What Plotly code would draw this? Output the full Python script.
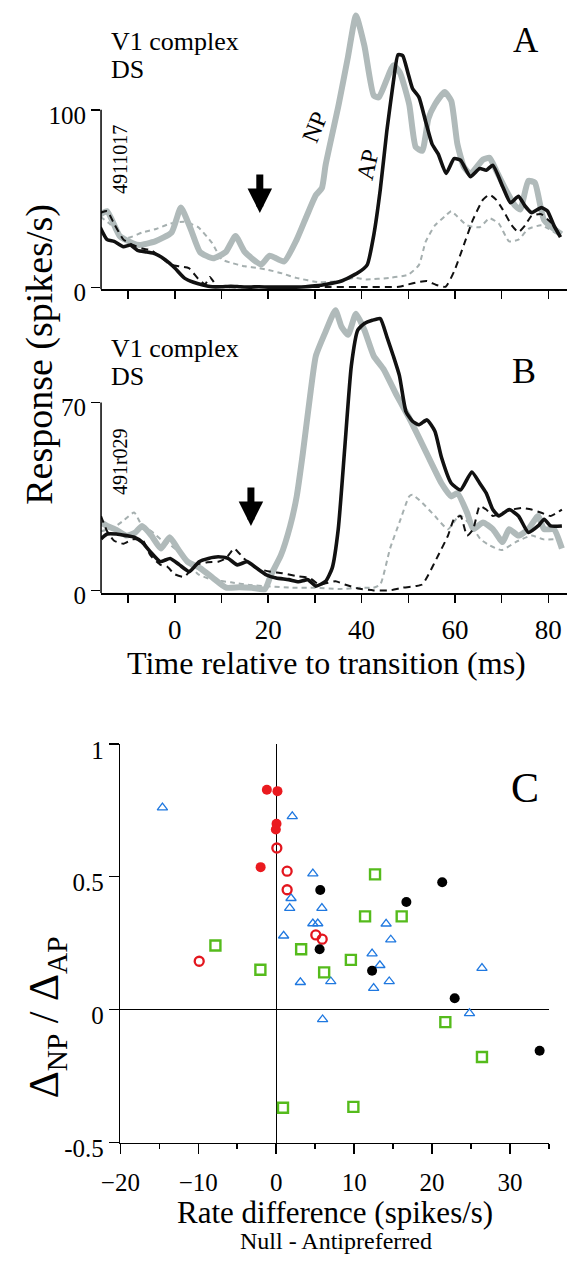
import plotly.graph_objects as go

W, H = 568, 1280
SERIF = "Liberation Serif, Times New Roman, serif"

# ---------------- Panel A data (time ms, spikes/s) ----------------
A_NP_t = [-16, -14.5, -11.8, -9, -7.6, -4.2, -0.7, 1.3, 3.4, 5.4, 8.2, 10.9, 13, 15, 18.5, 20.3, 23.4, 26.1, 28.2, 30.2,
          31.5, 32.3, 35.1, 37.1, 38.8, 40.6, 42.6, 43.7, 46.8, 48.2, 50.2, 51.6, 53, 54.3, 55.7, 57.8, 59.2, 60.5, 61.9, 63.3,
          66, 67.4, 68.8, 70.9, 72.9, 74, 75.7, 77.1, 79.1, 82.8]
A_NP_v = [41, 43, 29, 25, 24, 26, 31, 45, 33, 20, 16.5, 20, 29, 20, 13, 18, 14.7, 27, 40, 52,
          56, 69, 103, 130, 153, 136, 108, 107, 125, 121, 103, 79, 77, 95, 103, 110, 105, 81, 68, 64,
          72, 73, 66, 55, 46, 44, 60, 59, 38, 30]

A_AP_t = [-16, -14.5, -13, -11, -9.5, -8, -6, -4.2, -2, 0, 2, 4, 6, 8, 10, 12, 14, 16, 18, 20,
          22, 24, 26, 28, 30, 32.3, 35.7, 39.2, 41.2, 42.6, 44, 45.4, 46.8, 47.8, 48.8, 49.9, 50.9, 52.3, 53.7, 55.1,
          56.4, 58.1, 59.8, 61.2, 63.3, 65.3, 66.7, 68.1, 70.2, 71.9, 73.6, 75, 76.4, 78.5, 79.8, 81.2, 82.6]
A_AP_v = [34, 27, 26, 23, 24, 21, 20, 19, 15.6, 11, 5.5, 3, 1.5, 0.5, 0.5, 0.8, 0.5, 0.3, 0.5, 0.3,
          0.3, 0.3, 0.3, 0.5, 1, 1.8, 3.7, 8.3, 12.8, 29.4, 55, 88, 115.6, 131, 130.5, 121, 112, 107, 93.6, 80.7,
          75.2, 64.2, 72.5, 71.6, 62.4, 67, 66, 68.8, 56.9, 47.7, 51.4, 45.9, 42.2, 45, 43.1, 34.9, 28.4]

A_NPd_t = [-16, -14, -12, -10, -7, -4, -1, 2, 5, 8, 10, 12, 15, 18, 20, 23, 26, 31, 35, 38.5,
           41, 46, 50, 52.3, 53.7, 55.7, 57.8, 59.2, 60.5, 62.6, 65.3, 67.4, 69.4, 71.6, 73.6, 75.7, 78.5, 82.6]
A_NPd_v = [40, 36, 30, 28, 31, 33, 36, 37, 34, 25, 16, 14, 12, 11, 10, 8, 5.5, 3, 3.7, 5.5,
           4.6, 5.5, 7.3, 12.8, 25.7, 35, 40, 43, 40, 35, 34, 39, 36, 26, 27, 33, 35, 29]

A_APd_t = [-16, -14.5, -13, -11, -9, -7, -5, -3, -1, 1, 3, 5, 6.5, 7.5, 9, 11, 15, 20, 30, 40,
           48, 50, 52, 54, 56, 58, 59.8, 61.9, 63.9, 66, 67.4, 68.8, 70.2, 72.2, 73.6, 75, 76.4, 78.5, 79.8, 81.2, 82.6]
A_APd_v = [42, 43, 36, 27, 24, 22, 21, 17, 13, 12, 11, 5, 2, 6, 1, 0.3, 0.3, 0.3, 0.3, 0.3,
           0.5, 1.8, 3, 3.7, 1.5, 0.5, 9, 24, 38.5, 49.5, 52.3, 49.5, 44, 34.9, 31.2, 34.9, 40.4, 41.3, 38.5, 35, 29]

# ---------------- Panel B data ----------------
B_NP_t = [-15.8, -14.5, -12.5, -10.4, -8.5, -7, -5, -3, -1.1, 0.6, 2.7, 5.4, 8.2, 11, 13.8, 16.5, 19.3, 20.6, 22.7, 24.7,
          26.1, 27.4, 28.9, 30.2, 32.3, 34.4, 35.7, 37.1, 38.8, 40.6, 42.6, 44.7, 47.5, 50.2, 53, 55, 57.1, 59.2, 60.5, 62.6,
          63.9, 66, 68.1, 70.2, 71.6, 73.6, 75.7, 77.8, 79.1, 81.2, 82.9]
B_NP_v = [25.3, 24, 22.5, 20.4, 21.5, 24, 20.4, 15.6, 19.8, 15.6, 10.7, 8.3, 4.6, 1, 1.2, 1, 0.5, 5.8, 13, 24,
          35, 50.8, 71.5, 87.3, 96.4, 104.3, 98.2, 95.2, 103, 97, 87.3, 82.4, 72.7, 64.2, 54.4, 47.2, 39.9, 35, 36.2, 28.9,
          22.8, 25.3, 22.8, 18, 22.8, 20.4, 22.8, 27.7, 22.8, 22.8, 15.6]

B_AP_t = [-15.8, -14.5, -12.5, -10.4, -8.7, -7, -5.2, -3.1, -1, 1, 3.1, 5.2, 7.2, 9.3, 11.4, 13.4, 15.5, 17.5, 19.6, 21.7,
          24.4, 26.5, 28.5, 30.2, 32.3, 33.7, 35, 36.4, 37.8, 39.2, 40.6, 42.3, 44, 45.4, 46.8, 48.1, 49.5, 50.9, 52.3, 54,
          55.7, 57.1, 59.2, 61.2, 63.6, 65.3, 66.7, 68.1, 69.4, 71.6, 73.6, 75.7, 77.8, 79.1, 80.5, 82.9]
B_AP_v = [19.2, 21, 21, 20.4, 19.8, 18, 14.3, 10.7, 11.9, 9.5, 7, 10.7, 11.9, 12.5, 11.9, 9.5, 10.7, 8.3, 5.8, 4.6,
          4, 3.2, 4, 1.6, 3.4, 8.3, 22.8, 53.2, 83.6, 97, 99.4, 100.6, 101.2, 94.5, 87.3, 80, 66.6, 63, 61.7, 63.5,
          59.3, 49.6, 39.9, 37.4, 44.1, 39.9, 36.2, 30.1, 27.7, 30.1, 27.7, 21.6, 24, 26.5, 24, 24]

B_NPd_t = [-15.8, -13, -11, -8.7, -7, -5, -3, -1, 1, 3, 5, 8, 12, 16, 20, 25, 30, 35, 40, 42.5,
           44, 46.1, 48.1, 50.2, 50.9, 53, 55.7, 58.5, 61, 63.5, 65.5, 67.4, 70, 73, 76.4, 79, 82.6]
B_NPd_v = [22, 23.5, 26, 29, 24, 22, 19, 17, 14, 10, 6, 4, 3, 2, 1.5, 1, 1, 0.5, 1, 1,
           2.2, 15.6, 25.3, 35, 35.6, 32.6, 27.7, 22.8, 28, 24, 19, 16.8, 15, 18, 20.4, 19, 19.2]

B_APd_t = [-15.8, -14.5, -13, -11, -9, -7, -5.2, -3, -1.7, 0, 2, 4.4, 7, 9.3, 11, 12.7, 14.8, 17.5, 20.3, 23,
           26.4, 28.9, 30.9, 34.4, 36.4, 39.2, 42.6, 46.1, 48.8, 51.6, 53, 54.3, 56.4, 58.5, 59.8, 61.2, 62.6, 63.9, 65.3, 66.7,
           68.1, 70.2, 72.2, 74.3, 76.4, 78.5, 80.5, 82.9]
B_APd_v = [27.7, 22, 18.5, 17.4, 19, 19, 13, 9.5, 8.9, 6, 5, 9.5, 10.5, 10.7, 12, 15.6, 11.9, 8.3, 7, 6.4,
           5.2, 4.6, 2.2, 3.4, 2.2, 0.7, 0, 0, 1, 1.6, 2.2, 5.8, 13, 20.4, 26.5, 27.7, 20.4, 22.8, 31.4, 30.1,
           27.7, 28.9, 30.1, 30.7, 30.1, 28.9, 27.7, 30.1]

# ---------------- Panel C data ----------------
red_filled_x = [-1.2, 0.16, 0.04, -0.05, -2.0]
red_filled_y = [0.827, 0.822, 0.699, 0.678, 0.536]
red_open_x = [0.08, 1.4, 1.4, 5.08, 5.9, -9.88]
red_open_y = [0.608, 0.521, 0.451, 0.281, 0.265, 0.182]
black_x = [5.65, 5.57, 21.3, 16.7, 12.3, 22.9, 33.8]
black_y = [0.450, 0.227, 0.479, 0.405, 0.146, 0.043, -0.155]
blue_x = [-14.6, 2.06, 4.7, 1.9, 1.73, 5.86, 4.7, 5.33, 0.95, 3.1, 14.1, 14.7, 12.3, 13.3, 26.4, 7.0, 12.5, 14.5, 5.95, 24.8]
blue_y = [0.760, 0.727, 0.512, 0.419, 0.382, 0.382, 0.324, 0.324, 0.278, 0.103, 0.323, 0.263, 0.211, 0.167, 0.156,
          0.106, 0.081, 0.106, -0.037, -0.014]
green_x = [-7.8, -2.03, 3.2, 6.15, 12.68, 11.4, 16.1, 9.58, 21.7, 26.4, 9.9, 0.87]
green_y = [0.241, 0.150, 0.227, 0.140, 0.509, 0.351, 0.351, 0.187, -0.047, -0.178, -0.366, -0.369]

time_ticks = [-10, 0, 10, 20, 30, 40, 50, 60, 70, 80]
time_ticktext = ["", "0", "", "20", "", "40", "", "60", "", "80"]
C_x_ticks = [-20, -10, 0, 10, 20, 30]
C_y_ticks = [-0.5, 0, 0.5, 1]
C_y_ticktext = ["-0.5", "0", "0.5", "1"]

GRAY = "#b0baba"
GRAYD = "#a5afaf"
BLACK = "#111111"

fig = go.Figure()


def add_panel(xa, ya, npd, apd, np_, ap):
    fig.add_trace(go.Scatter(x=npd[0], y=npd[1], mode="lines", xaxis=xa, yaxis=ya,
                             line=dict(color=GRAYD, width=2, dash="5px,4px", shape="spline", smoothing=0.5)))
    fig.add_trace(go.Scatter(x=np_[0], y=np_[1], mode="lines", xaxis=xa, yaxis=ya,
                             line=dict(color=GRAY, width=6, shape="spline", smoothing=0.5)))
    fig.add_trace(go.Scatter(x=apd[0], y=apd[1], mode="lines", xaxis=xa, yaxis=ya,
                             line=dict(color=BLACK, width=2, dash="7px,5px", shape="spline", smoothing=0.5)))
    fig.add_trace(go.Scatter(x=ap[0], y=ap[1], mode="lines", xaxis=xa, yaxis=ya,
                             line=dict(color=BLACK, width=3.6, shape="spline", smoothing=0.5)))


add_panel("x", "y", (A_NPd_t, A_NPd_v), (A_APd_t, A_APd_v), (A_NP_t, A_NP_v), (A_AP_t, A_AP_v))
add_panel("x2", "y2", (B_NPd_t, B_NPd_v), (B_APd_t, B_APd_v), (B_NP_t, B_NP_v), (B_AP_t, B_AP_v))

# Panel C scatter
fig.add_trace(go.Scatter(x=blue_x, y=blue_y, mode="markers", xaxis="x3", yaxis="y3",
                         marker=dict(symbol="triangle-up-open", size=9, color="#1f78e0", line=dict(width=1.3))))
fig.add_trace(go.Scatter(x=green_x, y=green_y, mode="markers", xaxis="x3", yaxis="y3",
                         marker=dict(symbol="square-open", size=10, color="#55bb1c", line=dict(width=2.4))))
fig.add_trace(go.Scatter(x=red_open_x, y=red_open_y, mode="markers", xaxis="x3", yaxis="y3",
                         marker=dict(symbol="circle-open", size=9, color="#e3161e", line=dict(width=2.3))))
fig.add_trace(go.Scatter(x=red_filled_x, y=red_filled_y, mode="markers", xaxis="x3", yaxis="y3",
                         marker=dict(symbol="circle", size=10, color="#ea1a1f")))
fig.add_trace(go.Scatter(x=black_x, y=black_y, mode="markers", xaxis="x3", yaxis="y3",
                         marker=dict(symbol="circle", size=10, color="#000000")))


def px(v):
    return v / W


def py(v):
    return 1 - v / H


x_dom = [px(84), px(567)]
t_range = [-15.8, 84.0]
common_x = dict(domain=x_dom, range=t_range, showline=True, linewidth=1.5, linecolor="black",
                ticks="outside", ticklen=8, tickwidth=1.5, tickcolor="black", tickvals=time_ticks,
                showgrid=False, zeroline=False, fixedrange=True)
common_y = dict(showline=False, ticks="outside", ticklen=9, tickwidth=1.5, tickcolor="black",
                showgrid=False, zeroline=False, tickfont=dict(family=SERIF, size=25, color="black"),
                ticklabelshift=5, fixedrange=True)

fig.update_layout(
    width=W, height=H, margin=dict(l=0, r=0, t=0, b=0),
    paper_bgcolor="white", plot_bgcolor="white", showlegend=False,
    xaxis=dict(**common_x, anchor="y", showticklabels=False),
    yaxis=dict(**common_y, domain=[py(288.5), py(5.1)], range=[-1, 155], anchor="x", tickvals=[0, 100]),
    xaxis2=dict(**common_x, anchor="y2", ticktext=time_ticktext,
                tickfont=dict(family=SERIF, size=27, color="black"), ticklabelstandoff=4),
    yaxis2=dict(**common_y, domain=[py(598.7), py(300)], range=[-1, 107.9], anchor="x2", tickvals=[0, 70]),
    xaxis3=dict(domain=[px(104), px(548.3)], range=[-20, 35], anchor="y3", showline=True, linewidth=1.5,
                linecolor="black", ticks="outside", ticklen=10, tickwidth=1.5, tickcolor="black",
                tickvals=C_x_ticks, minor=dict(ticks="outside", ticklen=5, tickwidth=1.5, dtick=5, tick0=0,
                                               tickcolor="black"),
                showgrid=False, zeroline=True, zerolinecolor="black", zerolinewidth=1.2,
                tickfont=dict(family=SERIF, size=25, color="black"), ticklabelstandoff=7),
    yaxis3=dict(domain=[py(1160), py(752.7)], range=[-0.5, 1], anchor="x3", showline=True, linewidth=1.5,
                linecolor="black", ticks="outside", ticklen=10, tickwidth=1.5, tickcolor="black",
                tickvals=C_y_ticks, ticktext=C_y_ticktext, showgrid=False, zeroline=True,
                zerolinecolor="black", zerolinewidth=1.2,
                tickfont=dict(family=SERIF, size=25, color="black"), ticklabelshift=6),
)

# partial y-axis lines (0 to top tick) for A and B
fig.add_shape(type="line", xref="x domain", yref="y", x0=0, x1=0, y0=-1, y1=100,
              line=dict(color="black", width=1.5))
fig.add_shape(type="line", xref="x2 domain", yref="y2", x0=0, x1=0, y0=-1, y1=70,
              line=dict(color="black", width=1.5))


def label(text, x, y, size, angle=0, anchor="center"):
    fig.add_annotation(text=text, x=px(x), y=py(y), xref="paper", yref="paper", showarrow=False,
                       xanchor=anchor, yanchor="middle", textangle=angle,
                       font=dict(family=SERIF, size=size, color="black"))


label("V1 complex", 92, 35, 26, anchor="left")
label("DS", 92, 64, 26, anchor="left")
label("V1 complex", 92, 349, 26, anchor="left")
label("DS", 92, 377, 26, anchor="left")
label("A", 524, 34, 35)
label("B", 522, 372, 36)
label("C", 523, 798, 42)
label("4911017", 103, 156, 20, angle=-90)
label("491r029", 103.5, 464, 20, angle=-90)
label("NP", 306, 123, 24, angle=-68)
label("AP", 360, 161, 24, angle=-78)
label("Response (spikes/s)", 20, 355, 38, angle=-90)
label("Time relative to transition (ms)", 318, 670, 32)
label("Δ<sub>NP</sub> / Δ<sub>AP</sub>", 28, 1032, 42, angle=-90)
label("Rate difference (spikes/s)", 327, 1231, 31)
label("Null - Antipreferred", 328, 1261, 24)

# arrows
fig.add_annotation(x=18.2, y=42, xref="x", yref="y", ax=0, ay=-40, text="", showarrow=True,
                   arrowhead=2, arrowwidth=7, arrowsize=0.7, arrowcolor="black")
fig.add_annotation(x=16.3, y=24, xref="x2", yref="y2", ax=0, ay=-40, text="", showarrow=True,
                   arrowhead=2, arrowwidth=7, arrowsize=0.7, arrowcolor="black")

fig.write_html("out.html", config={"displayModeBar": False, "staticPlot": True},
               post_script="document.body.style.margin='0px';")
